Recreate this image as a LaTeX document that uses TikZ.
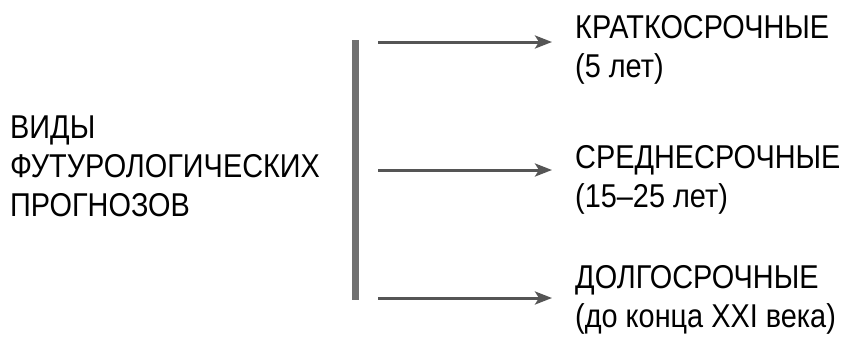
\documentclass[tikz,border=0pt]{standalone}
\usepackage{fontspec}
\setmainfont{Liberation Sans}[FakeStretch=0.875]
\usetikzlibrary{arrows.meta}
\definecolor{barcol}{HTML}{707070}
\definecolor{arrcol}{HTML}{555555}
\begin{document}
\begin{tikzpicture}[x=1pt,y=-1pt,
  txt/.style={inner sep=0pt,anchor=base west,align=left,font=\fontsize{33}{39}\selectfont},
  arr/.style={draw=arrcol,line width=3pt,-{Stealth[length=17pt,width=13pt,inset=4pt]}},
  bar/.style={draw=barcol,line width=7pt}]
\useasboundingbox (0,0) rectangle (846,338);
\node[txt] (left) at (10,216) {ВИДЫ\\ФУТУРОЛОГИЧЕСКИХ\\ПРОГНОЗОВ};
\coordinate (bt) at (355,40);
\coordinate (bb) at (355,300);
\draw[bar] (bt) -- (bb);
\node[txt] (t1) at (575,77) {КРАТКОСРОЧНЫЕ\\(5 лет)};
\node[txt] (t2) at (575,207) {СРЕДНЕСРОЧНЫЕ\\(15–25 лет)};
\node[txt] (t3) at (575,327) {ДОЛГОСРОЧНЫЕ\\(до конца XXI века)};
\coordinate (s1) at (378,42);
\coordinate (e1) at (552,42);
\coordinate (s2) at (378,170);
\coordinate (e2) at (552,170);
\coordinate (s3) at (378,298);
\coordinate (e3) at (552,298);
\draw[arr] (s1) -- (e1);
\draw[arr] (s2) -- (e2);
\draw[arr] (s3) -- (e3);
\end{tikzpicture}
\end{document}
